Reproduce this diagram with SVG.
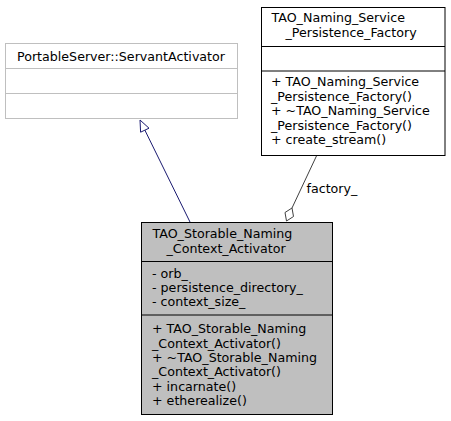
<svg xmlns="http://www.w3.org/2000/svg" width="451" height="421" viewBox="0 0 451 421">
<style>
text{font-family:"DejaVu Sans","Liberation Sans",sans-serif;font-size:12.65px;fill:#000}
.c{text-anchor:middle}
.gray{fill:#fff;stroke:#bfbfbf;stroke-width:1}
.white{fill:#fff;stroke:#000;stroke-width:1}
.main{fill:#bfbfbf;stroke:#000;stroke-width:1}
.gl{stroke:#bfbfbf;stroke-width:1}
.bl{stroke:#000;stroke-width:1}
</style>
<rect width="451" height="421" fill="#fff"/>
<g id="connectors">
  <g id="edge-inherit">
    <path d="M190,222 L144.8,130" fill="none" stroke="#191970" stroke-width="1"/>
    <polygon points="140,120 149,128.2 140.6,132.2" fill="#fff" stroke="#191970" stroke-width="1"/>
  </g>
  <g id="edge-factory">
    <path d="M316.7,155.5 L292,208" fill="none" stroke="#404040" stroke-width="1"/>
    <polygon points="286.5,221 285,212.5 292,208 293.5,216.5" fill="#fff" stroke="#404040" stroke-width="1"/>
    <text x="306.5" y="193">factory_</text>
  </g>
</g>
<g id="node-servantactivator">
  <rect class="gray" x="5.5" y="43.5" width="232" height="75"/>
  <line class="gl" x1="5.5" y1="68.5" x2="237.5" y2="68.5"/>
  <line class="gl" x1="5.5" y1="93.5" x2="237.5" y2="93.5"/>
  <text class="c" x="121" y="61">PortableServer::ServantActivator</text>
</g>
<g id="node-factory">
  <rect class="white" x="261.5" y="7.5" width="183.5" height="148"/>
  <line class="bl" x1="261.5" y1="46.5" x2="445" y2="46.5"/>
  <line class="bl" x1="261.5" y1="71" x2="445" y2="71"/>
  <text x="271.5" y="22">TAO_Naming_Service</text>
  <text x="285.5" y="36.5">_Persistence_Factory</text>
  <text x="271" y="86">+ TAO_Naming_Service</text>
  <text x="271" y="100.5">_Persistence_Factory()</text>
  <text x="271" y="115">+ ~TAO_Naming_Service</text>
  <text x="271" y="129.5">_Persistence_Factory()</text>
  <text x="271" y="144">+ create_stream()</text>
</g>
<g id="node-main">
  <rect class="main" x="141.5" y="222.5" width="191" height="192"/>
  <line class="bl" x1="141.5" y1="261.5" x2="332.5" y2="261.5"/>
  <line class="bl" x1="141.5" y1="315" x2="332.5" y2="315"/>
  <text x="152.5" y="238">TAO_Storable_Naming</text>
  <text x="166.5" y="252.5">_Context_Activator</text>
  <text x="152" y="278.3">- orb_</text>
  <text x="152" y="292.3">- persistence_directory_</text>
  <text x="152" y="306">- context_size_</text>
  <text x="152" y="333.3">+ TAO_Storable_Naming</text>
  <text x="152" y="347.6">_Context_Activator()</text>
  <text x="152" y="361.9">+ ~TAO_Storable_Naming</text>
  <text x="152" y="376.2">_Context_Activator()</text>
  <text x="152" y="390.5">+ incarnate()</text>
  <text x="152" y="404.8">+ etherealize()</text>
</g>
</svg>
